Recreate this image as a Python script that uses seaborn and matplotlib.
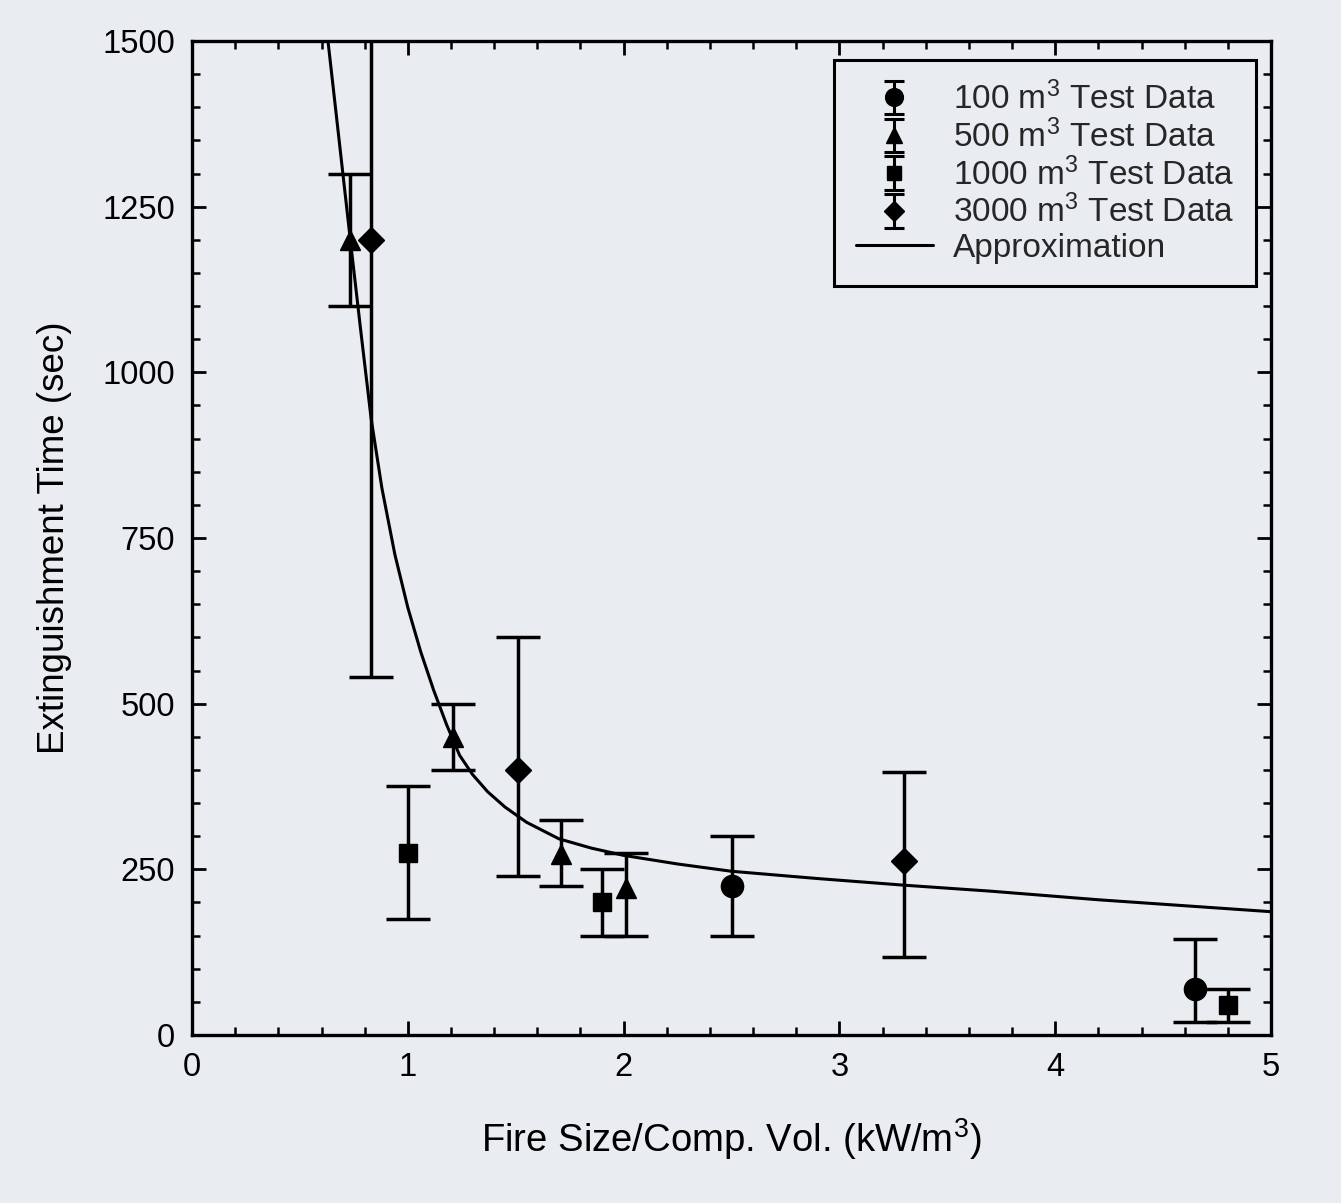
import numpy as np
import pandas as pd
import matplotlib
matplotlib.use("Agg")
import matplotlib.pyplot as plt
import seaborn as sns

# --- test data: fire size per compartment volume (kW/m^3) vs extinguishment time (s)
x_100 = [2.50, 4.65]
y_100 = [225, 70]
lo_100 = [150, 20]
hi_100 = [300, 145]

x_500 = [0.73, 1.21, 1.71, 2.01]
y_500 = [1200, 450, 273, 222]
lo_500 = [1100, 400, 225, 150]
hi_500 = [1300, 500, 325, 275]

x_1000 = [1.00, 1.90, 4.80]
y_1000 = [275, 200, 45]
lo_1000 = [175, 150, 20]
hi_1000 = [375, 250, 70]

x_3000 = [0.83, 1.51, 3.30]
y_3000 = [1200, 400, 263]
lo_3000 = [540, 240, 118]
hi_3000 = [1860, 600, 397]

# --- approximation curve
approx_x = [0.63, 0.68, 0.73, 0.78, 0.83, 0.88, 0.94, 1.00, 1.06, 1.12, 1.18,
            1.24, 1.30, 1.37, 1.45, 1.55, 1.70, 1.85, 2.00, 2.25, 2.50, 2.90,
            3.30, 3.70, 4.20, 4.60, 5.00]
approx_y = [1500, 1355, 1210, 1068, 930, 825, 725, 645, 578, 520, 468,
            422, 393, 367, 344, 321, 296, 282, 271, 258, 247, 236,
            226, 217, 204, 195, 186]

x_ticks = [0, 1, 2, 3, 4, 5]
y_ticks = [0, 250, 500, 750, 1000, 1250, 1500]

labels = ["100 m$^3$ Test Data", "500 m$^3$ Test Data",
          "1000 m$^3$ Test Data", "3000 m$^3$ Test Data", "Approximation"]

BG = "#e9ecf1"

sns.set_theme(style="ticks")
plt.rcParams["font.family"] = ["Liberation Sans", "DejaVu Sans"]
plt.rcParams["mathtext.fontset"] = "custom"
plt.rcParams["mathtext.rm"] = "Liberation Sans"
plt.rcParams["mathtext.it"] = "Liberation Sans:italic"
plt.rcParams["mathtext.bf"] = "Liberation Sans:bold"

fig = plt.figure(figsize=(13.41, 12.03), dpi=100, facecolor=BG)
ax = fig.add_axes([0.1432, 0.1397, 0.9478 - 0.1432, 0.9659 - 0.1397])
ax.set_facecolor(BG)

curve = pd.DataFrame({"x": approx_x, "y": approx_y})
sns.lineplot(data=curve, x="x", y="y", sort=False, estimator=None,
             color="black", lw=2.2, ax=ax, legend=False)
line_handle = ax.lines[-1]

MARKERS = {"100": ("o", 16), "500": ("^", 15), "1000": ("s", 13), "3000": ("D", 13)}


def series(xs, ys, lo, hi, key):
    marker, ms = MARKERS[key]
    ys = np.asarray(ys, dtype=float)
    err = np.vstack([ys - np.asarray(lo), np.asarray(hi) - ys])
    ax.errorbar(xs, ys, yerr=err, fmt=marker, ms=ms, color="black",
                mfc="black", mec="black", elinewidth=2.5,
                capsize=16, capthick=2.5, zorder=3)
    # compact version of the same symbol for the legend key
    return ax.errorbar([np.nan], [np.nan], yerr=[[1], [1]], fmt=marker,
                       ms=ms * 0.8, color="black", elinewidth=2.2,
                       capsize=7, capthick=2.2)


h100 = series(x_100, y_100, lo_100, hi_100, "100")
h500 = series(x_500, y_500, lo_500, hi_500, "500")
h1000 = series(x_1000, y_1000, lo_1000, hi_1000, "1000")
h3000 = series(x_3000, y_3000, lo_3000, hi_3000, "3000")

ax.set_xlim(0, 5)
ax.set_ylim(0, 1500)
ax.set_xticks(x_ticks)
ax.set_yticks(y_ticks)
ax.set_xticks(np.arange(0, 5.01, 0.2), minor=True)
ax.set_yticks(np.arange(0, 1501, 50), minor=True)
ax.tick_params(which="both", direction="in", top=True, right=True,
               color="black", labelsize=23.5, labelcolor="black")
ax.tick_params(which="major", length=10, width=2, pad=12)
ax.tick_params(which="minor", length=6, width=1.8)
for s in ax.spines.values():
    s.set_linewidth(2.4)
    s.set_color("black")
    s.set_visible(True)

ax.set_xlabel("Fire Size/Comp. Vol. (kW/m$^3$)", fontsize=27.5, labelpad=24,
              color="black")
ax.set_ylabel("Extinguishment Time (sec)", fontsize=26.5, labelpad=22,
              color="black")

leg = ax.legend(handles=[h100, h500, h1000, h3000, line_handle], labels=labels,
                loc="upper right", bbox_to_anchor=(0.986, 0.981),
                fontsize=24, frameon=True, fancybox=False, framealpha=1,
                facecolor=BG, edgecolor="black", labelspacing=0.1,
                handlelength=2.3, handletextpad=0.6, borderpad=0.65,
                borderaxespad=0)
leg.get_frame().set_linewidth(2.2)

fig.savefig("out.png", dpi=100, facecolor=BG)
